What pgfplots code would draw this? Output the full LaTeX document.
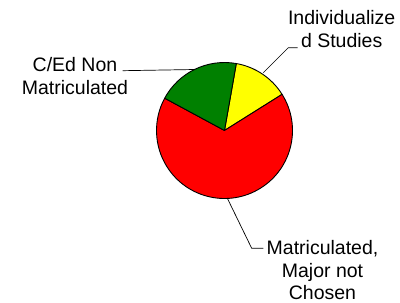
\documentclass[border=0pt]{standalone}
\usepackage{pgfplots}
\usepackage{pgfplotstable}
\pgfplotsset{compat=1.18}
\usepackage{fontspec}
\setmainfont{Liberation Sans}
\definecolor{sliceY}{RGB}{255,255,0}
\definecolor{sliceR}{RGB}{255,0,0}
\definecolor{sliceG}{RGB}{0,128,0}
\pgfplotstableread{
label value
Individualized 13.3
Matriculated 66.8
CEd 19.9
}\piedata
\pgfplotstablegetelem{0}{value}\of\piedata \let\vA\pgfplotsretval
\pgfplotstablegetelem{1}{value}\of\piedata \let\vB\pgfplotsretval
\pgfplotstablegetelem{2}{value}\of\piedata \let\vC\pgfplotsretval
\pgfmathsetmacro{\tot}{\vA+\vB+\vC}
\pgfmathsetmacro{\aS}{80}
\pgfmathsetmacro{\aA}{\aS-3.6*(\vA/\tot)*100}
\pgfmathsetmacro{\aB}{\aA-3.6*(\vB/\tot)*100}
\pgfmathsetmacro{\aC}{\aB-3.6*(\vC/\tot)*100}
\begin{document}
\begin{tikzpicture}
\useasboundingbox (0,0) rectangle (400pt,303pt);
\begin{axis}[at={(0,0)}, anchor=south west, x=1pt, y=1pt,
  xmin=0, xmax=400, ymin=0, ymax=303, hide axis, clip=false]
\fill[sliceY, draw=black, line width=0.9pt, line join=round] (axis cs:224.5,172.5) -- ++(\aS:68pt) arc[start angle=\aS, end angle=\aA, radius=68pt] -- cycle;
\fill[sliceR, draw=black, line width=0.9pt, line join=round] (axis cs:224.5,172.5) -- ++(\aA:68pt) arc[start angle=\aA, end angle=\aB, radius=68pt] -- cycle;
\fill[sliceG, draw=black, line width=0.9pt, line join=round] (axis cs:224.5,172.5) -- ++(\aB:68pt) arc[start angle=\aB, end angle=\aC, radius=68pt] -- cycle;
\draw[black, line width=0.7pt] (axis cs:122.7,232.3) -- (axis cs:195,233.5);
\draw[black, line width=0.7pt] (axis cs:263.3,230.3) -- (axis cs:288.3,255.3) -- (axis cs:297.7,255.3);
\draw[black, line width=0.7pt] (axis cs:227.7,104) -- (axis cs:251.7,54.7) -- (axis cs:263.3,54.7);
\node[align=center, inner sep=0pt, font=\fontsize{19.5}{23}\selectfont] at (axis cs:75,227) {C/Ed Non\\Matriculated};
\node[align=center, inner sep=0pt, font=\fontsize{19.5}{23}\selectfont] at (axis cs:341.7,273.8) {Individualize\\d Studies};
\node[align=center, inner sep=0pt, font=\fontsize{19.5}{22.5}\selectfont] at (axis cs:322.5,32.5) {Matriculated,\\Major not\\Chosen};
\end{axis}
\end{tikzpicture}
\end{document}
